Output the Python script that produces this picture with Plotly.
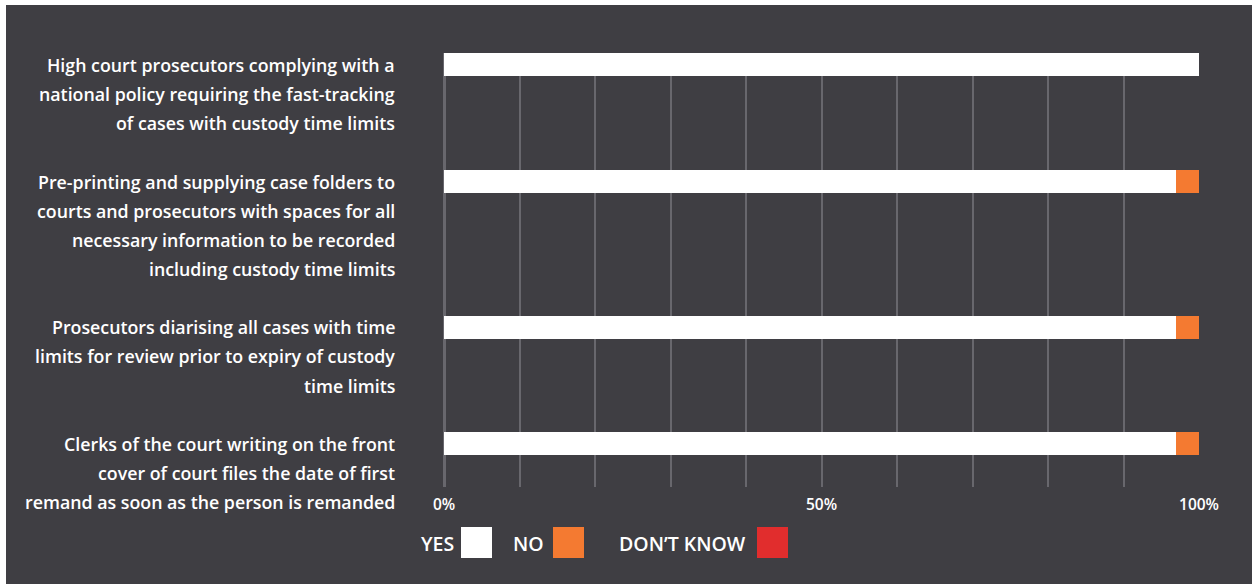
import plotly.graph_objects as go

# Survey statements, one list of text lines per row
statements = [
    ["High court prosecutors complying with a",
     "national policy requiring the fast-tracking",
     "of cases with custody time limits"],
    ["Pre-printing and supplying case folders to",
     "courts and prosecutors with spaces for all",
     "necessary information to be recorded",
     "including custody time limits"],
    ["Prosecutors diarising all cases with time",
     "limits for review prior to expiry of custody",
     "time limits"],
    ["Clerks of the court writing on the front",
     "cover of court files the date of first",
     "remand as soon as the person is remanded"],
]

yes_pct = [100, 97, 97, 97]
no_pct = [0, 3, 3, 3]
dont_know_pct = [0, 0, 0, 0]

x_tick_vals = [0, 50, 100]
x_tick_text = ["0%", "50%", "100%"]

legend_labels = ["YES", "NO", "DON\u2019T KNOW"]

BG = "#3f3e43"
GRID = "#68676d"
WHITE = "#ffffff"
ORANGE = "#f47a31"
RED = "#e12d2d"
FONT = "Open Sans"

# Rows are stacked in "line units": each row starts after the previous
# row's text lines plus one blank line.
row_pos = []
acc = 0
for lines in statements:
    row_pos.append(acc)
    acc += len(lines) + 1

Y_TOP, Y_BOTTOM = -0.41, 14.48


def to_paper(u):
    return (Y_BOTTOM - u) / (Y_BOTTOM - Y_TOP)


fig = go.Figure()
for name, vals, color in [("YES", yes_pct, WHITE),
                          ("NO", no_pct, ORANGE),
                          ("DON\u2019T KNOW", dont_know_pct, RED)]:
    fig.add_trace(go.Bar(
        x=vals, y=row_pos, orientation="h", name=name,
        marker=dict(color=color, line=dict(width=0)),
        width=0.79, showlegend=False, hoverinfo="x+name",
    ))

annotations = []
LABEL_X = -47 / 755
for pos, lines in zip(row_pos, statements):
    for k, line in enumerate(lines):
        annotations.append(dict(
            text=line, xref="paper", yref="paper",
            x=LABEL_X, y=to_paper(pos + k),
            xanchor="right", yanchor="middle", showarrow=False,
            font=dict(family=FONT, size=17.8, color=WHITE, weight=600),
        ))

# Legend: label text followed by a coloured square
PW, PH = 755.0, 434.0
legend_items = [(legend_labels[0], WHITE, 456, 461),
                (legend_labels[1], ORANGE, 546, 553),
                (legend_labels[2], RED, 748, 757)]
shapes = [dict(type="rect", xref="paper", yref="paper", layer="below",
               x0=(6 - 444) / PW, x1=(1252 - 444) / PW,
               y0=(487 - 584) / PH, y1=(487 - 5) / PH,
               fillcolor=BG, line=dict(width=0))]
for label, color, text_right, sq_left in legend_items:
    annotations.append(dict(
        text=label, xref="paper", yref="paper",
        x=(text_right - 444) / PW, y=(487 - 543) / PH,
        xanchor="right", yanchor="middle", showarrow=False,
        font=dict(family=FONT, size=19.5, color=WHITE, weight=600),
    ))
    shapes.append(dict(
        type="rect", xref="paper", yref="paper",
        x0=(sq_left - 444) / PW, x1=(sq_left + 31 - 444) / PW,
        y0=(487 - 558) / PH, y1=(487 - 527) / PH,
        fillcolor=color, line=dict(width=0),
    ))

fig.update_layout(
    width=1252, height=586,
    margin=dict(l=444, r=53, t=53, b=99),
    paper_bgcolor=WHITE,
    plot_bgcolor="rgba(0,0,0,0)",
    barmode="stack",
    bargap=0,
    showlegend=False,
    annotations=annotations,
    shapes=shapes,
    xaxis=dict(
        range=[0, 100], tickmode="array", tickvals=x_tick_vals,
        ticktext=x_tick_text, showgrid=False, zeroline=False,
        ticks="outside", ticklen=3, tickcolor="rgba(0,0,0,0)",
        tickfont=dict(family=FONT, size=15.5, color=WHITE, weight=600),
        fixedrange=True,
    ),
    xaxis2=dict(
        overlaying="x", range=[0, 100], dtick=10, showgrid=True,
        gridcolor=GRID, gridwidth=2, zeroline=True, zerolinecolor=GRID,
        zerolinewidth=3, showticklabels=False, fixedrange=True,
    ),
    yaxis=dict(range=[Y_BOTTOM, Y_TOP], showgrid=False, zeroline=False,
               showticklabels=False, fixedrange=True),
)
# Empty trace on the second x axis so its grid is drawn
fig.add_trace(go.Scatter(x=[None], y=[None], xaxis="x2", showlegend=False,
                         hoverinfo="skip"))

fig.write_html("out.html")
